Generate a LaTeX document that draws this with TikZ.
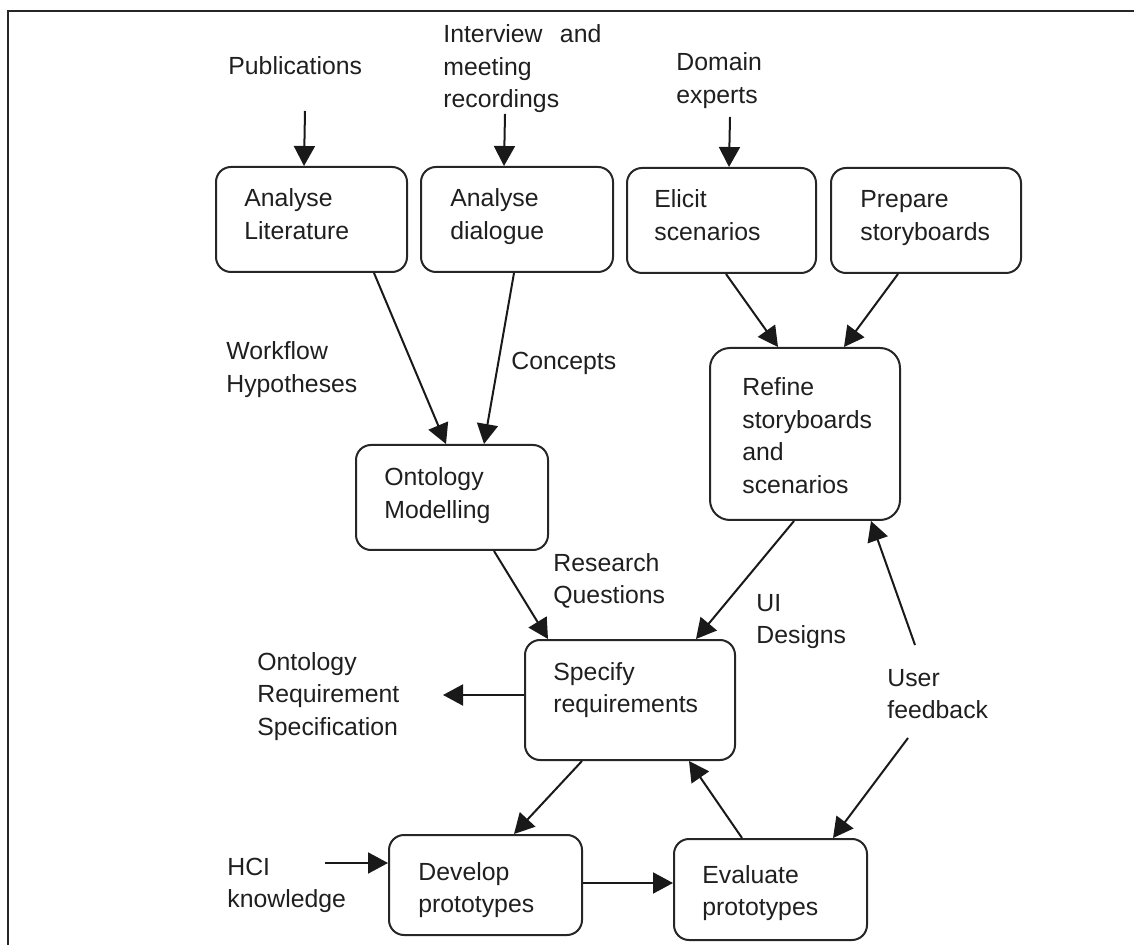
\documentclass[tikz,border=0pt]{standalone}
\usepackage{fontspec}
\setmainfont{Liberation Sans}
\usetikzlibrary{arrows.meta,calc}

\begin{document}
\begin{tikzpicture}[x=0.5pt,y=-0.5pt,
  box/.style={draw=black!85, line width=1pt, rounded corners=7.5pt, inner sep=0pt},
  % captions are placed by the baseline of their last line
  txt/.style={anchor=base west, inner sep=0pt, align=left,
    font=\fontsize{12.4pt}{16.25pt}\selectfont, text=black!88},
  arr/.style={line width=1pt, draw=black!90, -{Triangle[length=10pt,width=10.5pt]}}
]
\useasboundingbox (0,0) rectangle (1134,945);

% outer frame (left and top edges)
\draw[line width=1pt, black!85] (8,950) -- (8,11) -- (1140,11);

% process boxes
\node[box, minimum width=95.5pt, minimum height=52.5pt] (lit) at (311.5,219.5) {};
\node[box, minimum width=96pt,   minimum height=52.5pt] (dia) at (517,219.5) {};
\node[box, minimum width=94.5pt, minimum height=52.5pt] (eli) at (721.5,220.5) {};
\node[box, minimum width=95pt,   minimum height=52.5pt] (pre) at (926,220.5) {};
\node[box, minimum width=95pt,   minimum height=86pt, rounded corners=10pt] (ref) at (805,434) {};
\node[box, minimum width=96pt,   minimum height=52.5pt] (ont) at (452,497.5) {};
\node[box, minimum width=105pt,  minimum height=60pt] (spe) at (630,700) {};
\node[box, minimum width=96.5pt, minimum height=50pt] (dev) at (485.5,885) {};
\node[box, minimum width=96.5pt, minimum height=50.5pt] (eva) at (770.5,889.5) {};

% box captions
\node[txt] (litT) at (244,239.5) {Analyse\\Literature};
\node[txt] (diaT) at (450,239.5) {Analyse\\dialogue};
\node[txt] (eliT) at (654,240.5) {Elicit\\scenarios};
\node[txt] (preT) at (860,240.5) {Prepare\\storyboards};
\node[txt] (refT) at (742,493.5) {Refine\\storyboards\\and\\scenarios};
\node[txt] (ontT) at (384,518.5) {Ontology\\Modelling};
\node[txt] (speT) at (553,712.5) {Specify\\requirements};
\node[txt] (devT) at (418,912.5) {Develop\\prototypes};
\node[txt] (evaT) at (702,915.5) {Evaluate\\prototypes};

% inputs, outputs and flow labels
\node[txt] (pub) at (228,75) {Publications};
\node[txt] (rec) at (443,108) {Interview\hspace{0.7em}and\\meeting\\recordings};
\node[txt] (dom) at (676,103.5) {Domain\\experts};
\node[txt] (wfh) at (226,392.5) {Workflow\\Hypotheses};
\node[txt] (con) at (511,370) {Concepts};
\node[txt] (rq)  at (553,603.5) {Research\\Questions};
\node[txt] (uid) at (756,643.5) {UI\\Designs};
\node[txt] (usr) at (887,718.5) {User\\feedback};
\node[txt] (ors) at (257,735) {Ontology\\Requirement\\Specification};
\node[txt] (hci) at (227,907.5) {HCI\\knowledge};

% free ends of the input/output connectors
\coordinate (pubE) at (305,111);
\coordinate (recE) at (505,114);
\coordinate (domE) at (730,117);
\coordinate (orsE) at (443,695);
\coordinate (hciE) at (325,863);
\coordinate (usrA) at (915,645);
\coordinate (usrB) at (908,738);

% connectors
\draw[arr] (pubE) -- ($(lit.north west)+(89,0)$);
\draw[arr] (recE) -- ($(dia.north west)+(84,0)$);
\draw[arr] (domE) -- ($(eli.north west)+(103,0)$);

\draw[arr] ($(lit.south west)+(159,0)$) -- ($(ont.north west)+(91,0)$);
\draw[arr] ($(dia.south west)+(94,0)$) -- ($(ont.north west)+(129,0)$);

\draw[arr] ($(eli.south west)+(100,0)$) -- ($(ref.north west)+(69,0)$);
\draw[arr] ($(pre.south west)+(68,0)$) -- ($(ref.north west)+(135,0)$);

\draw[arr] ($(ont.south west)+(139,0)$) -- ($(spe.north west)+(24,0)$);
\draw[arr] ($(ref.south west)+(85,0)$) -- ($(spe.north west)+(172,0)$);

\draw[arr] ($(spe.west)+(0,-5)$) -- (orsE);

\draw[arr] ($(spe.south west)+(58,0)$) -- ($(dev.north west)+(126,0)$);
\draw[arr] ($(eva.north west)+(69,0)$) -- ($(spe.south west)+(165,0)$);

\draw[arr] (usrB) -- ($(eva.north west)+(160,0)$);
\draw[arr] (usrA) -- ($(ref.south west)+(162,0)$);

\draw[arr] (hciE) -- ($(dev.west)+(0,-22)$);
\draw[arr] ($(dev.east)+(0,-2)$) -- ($(eva.west)+(0,-6.5)$);
\end{tikzpicture}
\end{document}
